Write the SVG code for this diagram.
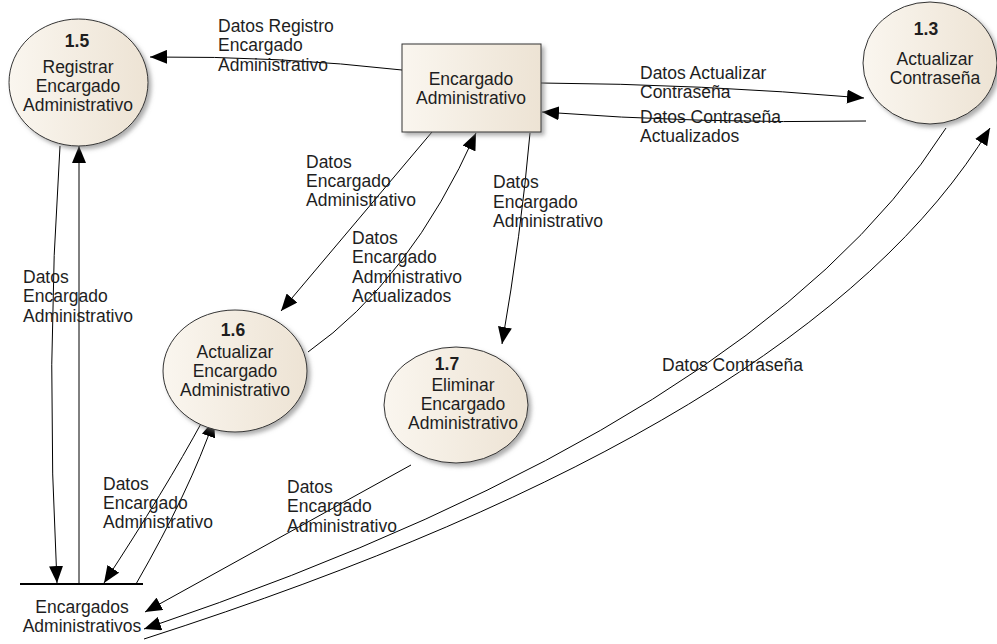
<svg xmlns="http://www.w3.org/2000/svg" width="997" height="644" viewBox="0 0 997 644">
<defs>
<linearGradient id="g" x1="0" y1="0" x2="1" y2="0">
<stop offset="0" stop-color="#faf6ef"/>
<stop offset="1" stop-color="#ede3d4"/>
</linearGradient>
<filter id="sh" x="-20%" y="-20%" width="140%" height="140%">
<feDropShadow dx="3" dy="3" stdDeviation="2" flood-color="#777" flood-opacity="0.6"/>
</filter>
<marker id="ah" markerUnits="userSpaceOnUse" markerWidth="18" markerHeight="14" refX="17" refY="7" orient="auto">
<path d="M0,0 L17,7 L0,14 z" fill="#000"/>
</marker>
</defs>
<style>
text{font-family:"Liberation Sans",Arial,sans-serif;font-size:17.5px;fill:#1e1e1e}
.c{text-anchor:middle}
.b{font-weight:bold}
.n{fill:url(#g);stroke:#333;stroke-width:1;filter:url(#sh)}
.e{fill:none;stroke:#000;stroke-width:1;marker-end:url(#ah)}
</style>
<rect width="997" height="644" fill="#fff"/>
<g id="connectors">
<path class="e" d="M402,70 Q280,56 150,57"/>
<path class="e" d="M541,83 Q700,84 864,98"/>
<path class="e" d="M866,121 Q700,124 542,112"/>
<path class="e" d="M432,132 L281,311"/>
<path class="e" d="M308,352 Q410,280 476,133"/>
<path class="e" d="M530,133 Q521,235 502,344"/>
<path class="e" d="M60,146 Q45,365 57,583"/>
<path class="e" d="M79,584 L79,146"/>
<path class="e" d="M203,420 Q165,490 104,583"/>
<path class="e" d="M136,584 Q190,490 214,420"/>
<path class="e" d="M411,465 L145,612"/>
<path class="e" d="M946,128 Q760,420 144,629"/>
<path class="e" d="M144,639 Q810,425 990,128"/>
<text x="218" y="32">Datos Registro</text>
<text x="218" y="51">Encargado</text>
<text x="218" y="71">Administrativo</text>
<text x="640" y="79">Datos Actualizar</text>
<text x="640" y="98">Contraseña</text>
<text x="640" y="123">Datos Contraseña</text>
<text x="640" y="142">Actualizados</text>
<text x="306" y="168">Datos</text>
<text x="306" y="187">Encargado</text>
<text x="306" y="206">Administrativo</text>
<text x="352" y="244">Datos</text>
<text x="352" y="263">Encargado</text>
<text x="352" y="283">Administrativo</text>
<text x="352" y="302">Actualizados</text>
<text x="493" y="188">Datos</text>
<text x="493" y="208">Encargado</text>
<text x="493" y="227">Administrativo</text>
<text x="23" y="283">Datos</text>
<text x="23" y="302">Encargado</text>
<text x="23" y="322">Administrativo</text>
<text x="662" y="371">Datos Contraseña</text>
<text x="103" y="490">Datos</text>
<text x="103" y="509">Encargado</text>
<text x="103" y="528">Administrativo</text>
<text x="287" y="493">Datos</text>
<text x="287" y="512">Encargado</text>
<text x="287" y="532">Administrativo</text>
</g>
<g id="n15">
<ellipse class="n" cx="78.5" cy="82.5" rx="69.5" ry="63.5"/>
<text class="c b" x="77" y="47">1.5</text>
<text class="c" x="78" y="73">Registrar</text>
<text class="c" x="78" y="92">Encargado</text>
<text class="c" x="78" y="111">Administrativo</text>
</g>
<g id="ext">
<rect class="n" x="402" y="44" width="139" height="88"/>
<text class="c" x="471" y="85">Encargado</text>
<text class="c" x="471" y="104">Administrativo</text>
</g>
<g id="n13">
<ellipse class="n" cx="930" cy="63" rx="67" ry="61"/>
<text class="c b" x="926" y="35">1.3</text>
<text class="c" x="935" y="65">Actualizar</text>
<text class="c" x="935" y="84">Contraseña</text>
</g>
<g id="n16">
<ellipse class="n" cx="235" cy="371" rx="72" ry="61"/>
<text class="c b" x="233" y="336">1.6</text>
<text class="c" x="235" y="358">Actualizar</text>
<text class="c" x="235" y="377">Encargado</text>
<text class="c" x="235" y="396">Administrativo</text>
</g>
<g id="n17">
<ellipse class="n" cx="456" cy="405" rx="72" ry="58"/>
<text class="c b" x="447" y="370">1.7</text>
<text class="c" x="463" y="391">Eliminar</text>
<text class="c" x="463" y="410">Encargado</text>
<text class="c" x="463" y="429">Administrativo</text>
</g>
<g id="ds">
<line x1="20" y1="584" x2="143" y2="584" stroke="#000" stroke-width="2"/>
<text class="c" x="82" y="613">Encargados</text>
<text class="c" x="82" y="632">Administrativos</text>
</g>
</svg>
